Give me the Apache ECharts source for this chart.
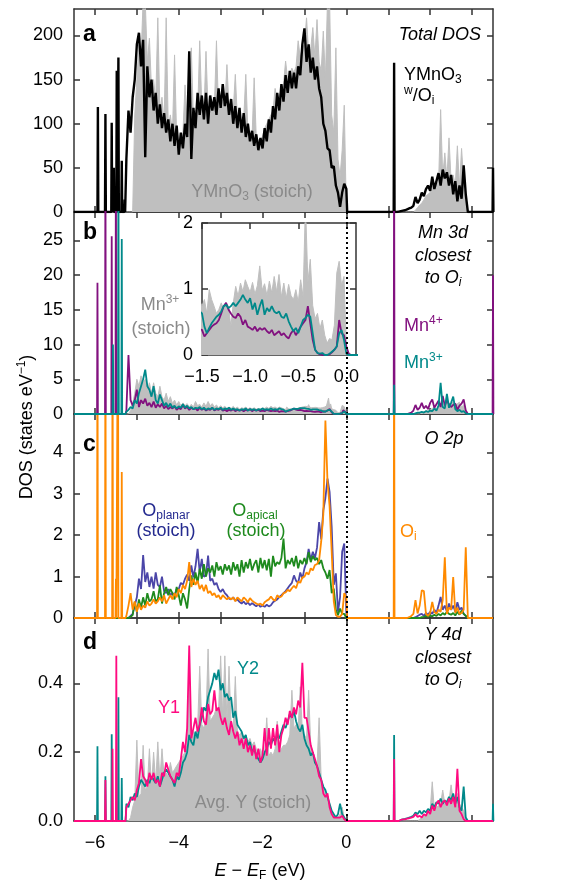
<!DOCTYPE html>
<html>
<head>
<meta charset="utf-8">
<script src="https://cdn.jsdelivr.net/npm/echarts@6/dist/echarts.min.js"></script>
<style>
  html, body { margin: 0; background: #fff; }
  #chart { width: 585px; height: 883px; }
</style>
</head>
<body>
<div id="chart"></div>
<script>
// Energy range (eV) and tick positions
const E_MIN = -6.5, E_MAX = 3.5;
const eTicks = [-6, -5, -4, -3, -2, -1, 0, 1, 2, 3];
const eLabels = [-6, -4, -2, 0, 2];
const dosTicksA = [0, 50, 100, 150, 200];
const dosTicksB = [0, 5, 10, 15, 20, 25];
const dosTicksC = [0, 1, 2, 3, 4];
const dosTicksD = [0, 0.2, 0.4];
const insetETicks = [-1.5, -1.0, -0.5, 0.0];
const insetDosTicks = [0, 1, 2];

// Sampling grids
const VB_START = -5.25, VB_STEP = 0.05;     // valence band, 106 points to 0.00
const CB_START = 1.20, CB_STEP = 0.05;      // conduction band, 35 points to 2.90
const MN_COARSE_START = -5.25;              // Mn valence coarse, 75 points to -1.55
const MN_FINE_START = -1.5, MN_FINE_STEP = 0.025; // Mn fine (inset), 65 points to 0.10

// ---- (a) Total DOS ----
const totalOiSpikes = [[-5.93, 119], [-5.75, 111], [-5.60, 101], [-5.55, 50], [-5.48, 160], [-5.44, 175], [-5.36, 58], [-5.29, 14], [1.14, 169], [3.5, 50]];
const totalOiVB = [
  60, 115, 90, 130, 150, 190, 203, 165, 195, 62,
  165, 130, 150, 115, 135, 100, 122, 95, 112, 90,
  105, 80, 100, 75, 98, 65, 90, 72, 100, 85,
  182, 60, 118, 95, 135, 110, 132, 105, 135, 100,
  132, 115, 130, 110, 140, 118, 145, 120, 135, 110,
  128, 100, 120, 95, 118, 90, 112, 85, 100, 80,
  92, 75, 88, 70, 84, 72, 95, 80, 105, 90,
  120, 105, 135, 115, 145, 125, 155, 135, 160, 140,
  158, 140, 165, 155, 190, 208, 170, 190, 158, 175,
  150, 165, 140, 130, 100, 92, 72, 70, 50, 52,
  30, 22, 6, 22, 32, 26
];
const totalOiCB = [
  0, 0.5, 1, 1.5, 2, 3, 4, 5, 7, 17,
  10, 14, 22, 18, 26, 30, 24, 40, 26, 35,
  44, 30, 48, 38, 45, 30, 42, 20, 35, 12,
  30, 15, 53, 20, 0
];
const totalStoichVB = [
  0, 0, 0, 0, 110, 150, 190, 175, 240, 240,
  170, 197, 140, 150, 125, 220, 115, 130, 100, 220,
  95, 110, 90, 178, 85, 80, 75, 90, 144, 100,
  120, 186, 105, 115, 110, 194, 120, 110, 182, 115,
  120, 125, 118, 194, 115, 130, 125, 120, 167, 118,
  112, 115, 156, 105, 108, 100, 104, 156, 92, 90,
  86, 152, 84, 82, 80, 86, 95, 100, 105, 110,
  115, 140, 125, 132, 138, 145, 171, 150, 155, 163,
  158, 165, 194, 175, 185, 190, 220, 180, 185, 209,
  175, 218, 170, 160, 205, 150, 240, 240, 110, 90,
  186, 60, 40, 70, 121, 0
];
const totalStoichCB = [
  0, 0, 0, 0, 0, 0, 0, 0, 0, 2,
  5, 8, 10, 14, 18, 20, 22, 30, 26, 35,
  30, 116, 40, 67, 38, 84, 35, 42, 30, 75,
  28, 72, 35, 20, 0
];

// ---- (b) Mn 3d ----
const mn4Spikes = [[-5.94, 18.9], [-5.75, 40], [-5.60, 25.6], [-5.50, 40], [1.14, 40], [3.5, 20]];
const mn3Spikes = [[-5.57, 10], [-5.44, 40], [-5.36, 25.2], [1.14, 4.2]];
const mn4Coarse = [
  0.5, 8.5, 2.0, 1.2, 2.0, 3.5, 1.0, 2.0, 1.5, 2.2,
  1.2, 1.6, 1.0, 1.8, 0.9, 1.4, 1.0, 1.5, 0.8, 1.2,
  0.7, 1.0, 0.8, 1.1, 0.6, 0.9, 0.7, 1.3, 0.8, 1.0,
  0.6, 0.9, 0.7, 0.8, 0.5, 0.9, 0.6, 0.8, 0.5, 0.7,
  0.6, 0.9, 0.5, 0.7, 0.6, 0.8, 0.5, 0.6, 0.4, 0.6,
  0.5, 0.7, 0.4, 0.6, 0.5, 0.6, 0.4, 0.6, 0.5, 0.7,
  0.4, 0.6, 0.5, 0.6, 0.4, 0.5, 0.4, 0.6, 0.5, 0.4,
  0.5, 0.4, 0.5, 0.3, 0.4
];
const mn4Fine = [
  0.38, 0.28, 0.33, 0.38, 0.43, 0.46, 0.48, 0.53, 0.63, 0.74,
  0.79, 0.69, 0.63, 0.58, 0.56, 0.63, 0.58, 0.46, 0.53, 0.43,
  0.41, 0.38, 0.43, 0.36, 0.41, 0.38, 0.41, 0.36, 0.33, 0.38,
  0.30, 0.33, 0.36, 0.30, 0.33, 0.28, 0.25, 0.33, 0.38, 0.30,
  0.36, 0.43, 0.48, 0.53, 0.74, 0.48, 0.23, 0.08, 0.03, 0.01,
  0, 0, 0, 0.01, 0.04, 0.08, 0.13, 0.53, 0.33, 0.30,
  0.13, 0.02, 0, 0, 0
];
const mn4CB = [
  0, 0, 0, 0, 0, 0, 0.1, 0.2, 0.5, 1.3,
  0.6, 0.9, 1.6, 0.8, 1.2, 0.7, 1.6, 2.1, 0.9, 1.4,
  1.9, 1.0, 2.6, 1.2, 2.0, 1.4, 1.0, 1.3, 1.5, 0.6,
  1.2, 1.5, 2.1, 0.5, 0
];
const mn3Coarse = [
  0.3, 0.6, 1.0, 0.8, 2.0, 1.5, 3.0, 4.0, 5.0, 6.4,
  4.0, 3.5, 2.5, 4.0, 2.0, 1.5, 2.8, 2.0, 1.2, 1.6,
  1.0, 1.5, 0.9, 1.2, 0.8, 1.1, 0.9, 1.4, 0.9, 1.2,
  0.8, 1.0, 0.7, 0.9, 0.8, 1.0, 0.7, 0.9, 0.6, 0.8,
  0.7, 0.9, 0.6, 0.8, 0.7, 0.9, 0.6, 0.8, 0.7, 0.9,
  0.6, 0.8, 0.6, 0.7, 0.5, 0.7, 0.6, 0.8, 0.5, 0.7,
  0.6, 0.7, 0.5, 0.7, 0.6, 0.8, 0.6, 0.7, 0.6, 0.8,
  0.6, 0.7, 0.6, 0.8, 0.7
];
const mn3Fine = [
  0.63, 0.43, 0.33, 0.41, 0.48, 0.53, 0.58, 0.61, 0.66, 0.74,
  0.76, 0.71, 0.74, 0.79, 0.74, 0.79, 0.84, 0.91, 0.84, 0.79,
  0.86, 0.69, 0.79, 0.61, 0.74, 0.84, 0.61, 0.71, 0.66, 0.74,
  0.66, 0.63, 0.66, 0.58, 0.56, 0.63, 0.51, 0.43, 0.36, 0.41,
  0.33, 0.43, 0.53, 0.56, 0.61, 0.58, 0.33, 0.08, 0.03, 0.02,
  0.03, 0, 0, 0.02, 0.05, 0.08, 0.13, 0.33, 0.38, 0.23,
  0.02, 0, 0, 0, 0
];
const mn3CB = [
  0, 0, 0, 0, 0, 0, 0, 0, 0, 0.1,
  0.2, 0.2, 0.3, 0.2, 0.4, 0.3, 0.5, 0.4, 0.8, 0.5,
  1.2, 4.5, 1.0, 0.8, 2.9, 0.9, 1.6, 2.5, 0.7, 0.4,
  0.6, 0.3, 0.4, 0.1, 0
];
const mnStoichCoarse = [
  0, 0, 0.5, 1.5, 3.0, 5.0, 4.0, 5.5, 4.5, 5.0,
  3.5, 4.5, 3.0, 4.5, 3.0, 2.5, 4.0, 2.5, 2.0, 3.0,
  1.8, 2.5, 1.5, 2.0, 1.3, 1.8, 1.2, 1.6, 1.2, 1.5,
  1.0, 1.4, 1.0, 1.8, 1.2, 1.4, 1.0, 1.6, 1.1, 1.8,
  1.2, 1.5, 1.0, 1.3, 0.9, 1.2, 0.9, 1.1, 0.8, 1.0,
  0.8, 1.1, 0.8, 1.0, 0.7, 0.9, 0.8, 1.0, 0.7, 0.9,
  0.7, 0.9, 0.7, 0.8, 0.7, 0.9, 0.8, 1.0, 0.8, 1.1,
  0.9, 1.0, 0.8, 1.0, 0.9
];
const mnStoichFine = [
  0.74, 0.84, 0.63, 0.99, 0.84, 0.74, 0.63, 0.69, 0.79, 0.69,
  0.79, 0.74, 0.43, 0.79, 1.04, 0.89, 1.09, 0.96, 1.14, 1.04,
  0.95, 1.10, 0.92, 1.05, 1.35, 0.98, 1.08, 0.90, 1.12, 0.94,
  1.19, 0.96, 1.22, 0.88, 1.09, 0.86, 1.07, 0.90, 0.84, 0.99,
  0.80, 1.14, 0.88, 2.30, 1.10, 1.45, 0.75, 0.55, 0.63, 0.40,
  0.53, 0.30, 0.18, 0.25, 0.23, 0.45, 1.24, 1.42, 1.05, 1.19,
  0.13, 0, 0, 0, 0
];
const mnStoichCB = [
  0, 0, 0, 0, 0, 0, 0, 0, 0, 0,
  0, 0, 0.2, 0.3, 0.5, 0.4, 0.6, 0.8, 1.0, 0.7,
  1.2, 1.5, 1.0, 1.3, 1.6, 1.1, 1.4, 1.8, 1.2, 1.5,
  1.7, 1.0, 1.3, 0.5, 0
];

// ---- (c) O 2p ----
const oiSpikes = [[-5.94, 8], [-5.75, 8], [-5.58, 8], [-5.50, 0.95], [-5.45, 8], [-5.36, 3.53], [1.14, 8]];
const oiVB = [
  0.05, 0.3, 0.6, 0.2, 0.4, 0.15, 0.35, 0.2, 0.3, 0.25,
  0.4, 0.3, 0.35, 0.45, 0.35, 0.4, 0.5, 0.4, 0.55, 0.35,
  0.45, 0.55, 0.45, 0.6, 0.5, 0.7, 0.6, 0.8, 0.7, 0.9,
  1.35, 0.75, 0.95, 0.8, 0.9, 0.7, 0.8, 0.65, 0.8, 0.6,
  0.65, 0.55, 0.6, 0.5, 0.55, 0.45, 0.55, 0.5, 0.45, 0.5,
  0.45, 0.5, 0.4, 0.5, 0.45, 0.4, 0.5, 0.45, 0.38, 0.48,
  0.42, 0.38, 0.35, 0.32, 0.35, 0.3, 0.38, 0.42, 0.45, 0.52,
  0.45, 0.42, 0.55, 0.5, 0.52, 0.6, 0.62, 0.68, 0.65, 0.72,
  0.78, 0.72, 0.88, 0.85, 0.98, 1.0, 1.1, 1.05, 1.2, 1.15,
  1.28, 1.3, 1.4, 1.85, 2.5, 4.77, 3.3, 2.7, 1.6, 0.4,
  0.07, 0.03, 0.03, 0.1, 0.6, 0.5
];
const oiCB = [
  0, 0, 0, 0, 0, 0, 0.02, 0.05, 0.1, 0.43,
  0.11, 0.3, 0.67, 0.65, 0.1, 0.05, 0.12, 0.39, 0.15, 0.1,
  0.2, 0.15, 0.43, 1.47, 0.1, 0.25, 0.2, 0.99, 0.12, 0.25,
  0.1, 0.12, 0.2, 1.71, 0
];
const oPlanarVB = [
  0, 0, 0.05, 0.1, 0.3, 0.5, 0.95, 0.7, 1.52, 0.87,
  1.1, 0.75, 1.0, 0.71, 1.1, 0.8, 0.75, 1.0, 0.65, 0.6,
  0.7, 0.55, 0.6, 0.55, 0.7, 0.7, 0.85, 0.8, 0.95, 1.05,
  0.9, 1.27, 0.98, 1.25, 1.67, 1.1, 1.43, 1.0, 1.03, 1.51,
  0.9, 0.95, 0.8, 0.85, 0.7, 0.63, 0.7, 0.6, 0.55, 0.47,
  0.45, 0.5, 0.42, 0.45, 0.39, 0.35, 0.4, 0.33, 0.38, 0.31,
  0.36, 0.32, 0.28, 0.33, 0.27, 0.3, 0.27, 0.32, 0.28, 0.31,
  0.38, 0.42, 0.45, 0.51, 0.55, 0.6, 0.65, 0.72, 0.79, 0.85,
  1.03, 0.9, 0.85, 1.1, 0.95, 1.2, 1.35, 1.67, 1.4, 1.6,
  1.45, 1.7, 2.32, 1.9, 2.6, 2.9, 3.37, 3.05, 2.2, 0.8,
  1.08, 0.15, 0.5, 1.6, 1.8, 0.07
];
const oPlanarCB = [
  0, 0, 0, 0, 0, 0, 0, 0, 0, 0.02,
  0.05, 0.08, 0.1, 0.05, 0.12, 0.08, 0.15, 0.1, 0.2, 0.12,
  0.3, 0.51, 0.2, 0.3, 0.15, 0.35, 0.2, 0.3, 0.15, 0.38,
  0.2, 0.25, 0.1, 0.05, 0
];
const oApicalVB = [
  0, 0, 0.03, 0.07, 0.39, 0.15, 0.45, 0.25, 0.5, 0.3,
  0.6, 0.4, 0.45, 0.65, 0.4, 0.45, 0.79, 0.35, 0.6, 0.75,
  0.55, 0.7, 0.6, 0.45, 0.75, 0.55, 0.3, 0.6, 0.45, 0.23,
  0.7, 1.03, 0.8, 1.1, 0.85, 1.19, 0.95, 1.3, 1.0, 1.2,
  1.1, 1.27, 1.0, 1.35, 1.15, 1.25, 1.05, 1.3, 1.15, 1.27,
  1.05, 1.35, 1.15, 1.3, 1.0, 1.4, 1.1, 1.35, 1.2, 1.43,
  1.15, 1.3, 1.4, 1.1, 1.45, 1.2, 1.4, 1.15, 1.43, 1.0,
  1.5, 1.25, 1.35, 1.3, 1.45, 1.92, 1.2, 1.4, 1.3, 1.45,
  1.25, 1.5, 1.2, 1.4, 1.3, 1.45, 1.3, 1.59, 1.35, 1.5,
  1.4, 1.45, 1.3, 1.4, 1.2, 1.1, 0.95, 1.16, 0.6, 0.71,
  0.2, 0.07, 0.23, 0.1, 0.1, 0
];
const oApicalCB = [
  0, 0, 0, 0, 0, 0, 0, 0, 0, 0,
  0, 0, 0.02, 0.03, 0.05, 0.03, 0.06, 0.04, 0.08, 0.05,
  0.1, 0.06, 0.12, 0.08, 0.15, 0.1, 0.08, 0.12, 0.06, 0.15,
  0.08, 0.18, 0.1, 0.05, 0
];

// ---- (d) Y 4d ----
const y1Spikes = [[-5.75, 0.119], [-5.58, 0.21], [-5.49, 0.48], [1.14, 0.18]];
const y2Spikes = [[-5.94, 0.217], [-5.75, 0.13], [-5.60, 0.252], [-5.44, 0.36], [-5.36, 0.125], [1.14, 0.25], [3.5, 0.05]];
const yStoichVB = [
  0, 0, 0.01, 0.04, 0.06, 0.235, 0.07, 0.08, 0.22, 0.09,
  0.1, 0.21, 0.1, 0.2, 0.11, 0.23, 0.12, 0.21, 0.13, 0.14,
  0.13, 0.17, 0.14, 0.15, 0.16, 0.17, 0.18, 0.19, 0.2, 0.22,
  0.43, 0.24, 0.26, 0.25, 0.27, 0.45, 0.28, 0.27, 0.3, 0.5,
  0.29, 0.3, 0.31, 0.33, 0.32, 0.48, 0.3, 0.48, 0.29, 0.45,
  0.28, 0.27, 0.42, 0.26, 0.25, 0.26, 0.24, 0.25, 0.23, 0.24,
  0.22, 0.23, 0.21, 0.2, 0.21, 0.19, 0.2, 0.3, 0.19, 0.2,
  0.19, 0.21, 0.29, 0.2, 0.21, 0.22, 0.22, 0.23, 0.25, 0.38,
  0.27, 0.28, 0.27, 0.39, 0.26, 0.25, 0.24, 0.38, 0.22, 0.2,
  0.17, 0.16, 0.3, 0.12, 0.1, 0.08, 0.06, 0.04, 0.03, 0.02,
  0.01, 0.01, 0.02, 0.04, 0.01, 0
];
const yStoichCB = [
  0, 0, 0, 0, 0, 0, 0, 0, 0, 0,
  0, 0.005, 0.01, 0.015, 0.02, 0.025, 0.03, 0.114, 0.035, 0.04,
  0.045, 0.05, 0.09, 0.05, 0.055, 0.06, 0.105, 0.06, 0.07, 0.08,
  0.05, 0.04, 0.03, 0.01, 0
];
const y1VB = [
  0.04, 0.05, 0.06, 0.07, 0.06, 0.09, 0.11, 0.18, 0.13, 0.12,
  0.1, 0.14, 0.12, 0.14, 0.11, 0.12, 0.1, 0.14, 0.13, 0.17,
  0.15, 0.13, 0.12, 0.11, 0.14, 0.13, 0.18, 0.23, 0.2, 0.27,
  0.51, 0.24, 0.27, 0.3, 0.26, 0.28, 0.33, 0.29, 0.28, 0.34,
  0.31, 0.32, 0.38, 0.32, 0.33, 0.3, 0.28, 0.3, 0.27, 0.25,
  0.29, 0.26, 0.24, 0.26, 0.22, 0.24, 0.21, 0.24, 0.2, 0.22,
  0.19, 0.22, 0.18, 0.21, 0.17, 0.19, 0.27, 0.19, 0.27, 0.21,
  0.27, 0.22, 0.28, 0.2, 0.25, 0.27, 0.3, 0.28, 0.32, 0.3,
  0.33, 0.31, 0.35, 0.33, 0.46, 0.3, 0.3, 0.26, 0.22, 0.2,
  0.18, 0.16, 0.13, 0.12, 0.08, 0.07, 0.08, 0.04, 0.02, 0.01,
  0.01, 0.01, 0.01, 0.015, 0.005, 0
];
const y1CB = [
  0, 0, 0.003, 0.005, 0.005, 0.007, 0.008, 0.01, 0.012, 0.02,
  0.012, 0.015, 0.01, 0.02, 0.015, 0.03, 0.02, 0.045, 0.03, 0.05,
  0.06, 0.04, 0.055, 0.06, 0.045, 0.065, 0.05, 0.07, 0.04, 0.152,
  0.03, 0.02, 0.005, 0, 0
];
const y2VB = [
  0.05, 0.04, 0.07, 0.06, 0.08, 0.07, 0.1, 0.12, 0.11, 0.1,
  0.12, 0.11, 0.13, 0.12, 0.11, 0.13, 0.1, 0.12, 0.14, 0.15,
  0.14, 0.13, 0.12, 0.1, 0.13, 0.12, 0.14, 0.17, 0.18, 0.2,
  0.25, 0.23, 0.22, 0.26, 0.24, 0.28, 0.3, 0.33, 0.32, 0.36,
  0.38, 0.4, 0.43, 0.41, 0.44, 0.38, 0.4, 0.36, 0.37, 0.35,
  0.36, 0.3, 0.32, 0.28, 0.27, 0.26, 0.24, 0.25, 0.22, 0.23,
  0.2, 0.21, 0.19, 0.18, 0.17, 0.18, 0.2, 0.21, 0.23, 0.22,
  0.24, 0.23, 0.25, 0.24, 0.26, 0.28, 0.27, 0.29, 0.31, 0.3,
  0.32, 0.29, 0.27, 0.26, 0.28, 0.24, 0.22, 0.21, 0.19, 0.2,
  0.17, 0.16, 0.14, 0.12, 0.1, 0.09, 0.07, 0.05, 0.03, 0.02,
  0.01, 0.02, 0.05, 0.02, 0.01, 0
];
const y2CB = [
  0, 0, 0.003, 0.005, 0.006, 0.008, 0.01, 0.012, 0.015, 0.025,
  0.02, 0.03, 0.02, 0.03, 0.025, 0.035, 0.03, 0.05, 0.04, 0.055,
  0.05, 0.065, 0.05, 0.06, 0.055, 0.07, 0.06, 0.08, 0.05, 0.07,
  0.04, 0.03, 0.1, 0.01, 0
];

// ---- styling ----
const FONT = '"Liberation Sans", Arial, Helvetica, sans-serif';
const GRAY = '#bfbfbf';
const GRAY_TEXT = '#8a8a8a';
const PURPLE = '#82117f';
const TEAL = '#00898a';
const ORANGE = '#ff8a00';
const BLUE = '#4b46a8';
const BLUE_TEXT = '#242a8f';
const GREEN = '#1e8a1e';
const PINK = '#ff0a80';
const AXIS = '#333';
const SPIKE_HALF = 0.01;

function sampled(start, step, values) {
  return values.map((v, i) => [Math.round((start + i * step) * 1000) / 1000, v]);
}

// builds a polyline over the full energy range: spikes + sampled bands, zero elsewhere
function curve(spikes, ...parts) {
  const pts = [[E_MIN, 0]];
  spikes.forEach(([e, h]) => pts.push([e - SPIKE_HALF, 0], [e, h], [e + SPIKE_HALF, 0]));
  parts.forEach((p) => {
    pts.push([p[0][0] - 0.02, 0], ...p, [p[p.length - 1][0] + 0.02, 0]);
  });
  pts.sort((a, b) => a[0] - b[0]);
  if (pts[pts.length - 1][0] < E_MAX) pts.push([E_MAX, 0]);
  return pts;
}

const vb = (v) => sampled(VB_START, VB_STEP, v);
const cb = (v) => sampled(CB_START, CB_STEP, v);
const mnVB = (c, f) => sampled(MN_COARSE_START, VB_STEP, c).concat(sampled(MN_FINE_START, MN_FINE_STEP, f));

const dataTotalStoich = curve([], vb(totalStoichVB), cb(totalStoichCB));
const dataTotalOi = curve(totalOiSpikes, vb(totalOiVB), cb(totalOiCB));
const dataMnStoich = curve([], mnVB(mnStoichCoarse, mnStoichFine), cb(mnStoichCB));
const dataMn4 = curve(mn4Spikes, mnVB(mn4Coarse, mn4Fine), cb(mn4CB));
const dataMn3 = curve(mn3Spikes, mnVB(mn3Coarse, mn3Fine), cb(mn3CB));
const dataOPlanar = curve([], vb(oPlanarVB), cb(oPlanarCB));
const dataOApical = curve([], vb(oApicalVB), cb(oApicalCB));
const dataOi = curve(oiSpikes, vb(oiVB), cb(oiCB));
const dataYStoich = curve([], vb(yStoichVB), cb(yStoichCB));
const dataY2 = curve(y2Spikes, vb(y2VB), cb(y2CB));
const dataY1 = curve(y1Spikes, vb(y1VB), cb(y1CB));

const minus = (v) => String(v).replace('-', '\u2212');
const labelStyle = { color: '#000', fontSize: 18, fontFamily: FONT };
const lineStyle = { color: AXIS, width: 1.5 };

const panels = [
  { top: 9, height: 203, max: 230, ticks: dosTicksA, fmt: (v) => String(v) },
  { top: 212, height: 202, max: 29.1, ticks: dosTicksB, fmt: (v) => String(v) },
  { top: 414, height: 204, max: 4.93, ticks: dosTicksC, fmt: (v) => String(v) },
  { top: 618, height: 203, max: 0.59, ticks: dosTicksD, fmt: (v) => v.toFixed(1) }
];

const grid = [];
const xAxis = [];
const yAxis = [];

function axisPair(list, base, pos2) {
  list.push(base);
  list.push(Object.assign({}, base, { position: pos2, axisLabel: { show: false } }));
}

panels.forEach((p, i) => {
  grid.push({ left: 74, right: 92, top: p.top, height: p.height, outerBoundsMode: 'none' });
  axisPair(xAxis, {
    type: 'value', gridIndex: i, min: E_MIN, max: E_MAX, position: 'bottom',
    axisLine: { show: true, onZero: false, lineStyle },
    splitLine: { show: false },
    axisTick: { show: true, inside: true, length: 6, customValues: eTicks, lineStyle },
    axisLabel: Object.assign({ show: i === 3, customValues: eLabels, formatter: minus, margin: 13 }, labelStyle)
  }, 'top');
  axisPair(yAxis, {
    type: 'value', gridIndex: i, min: 0, max: p.max, position: 'left',
    axisLine: { show: true, onZero: false, lineStyle },
    splitLine: { show: false },
    axisTick: { show: true, inside: true, length: 6, customValues: p.ticks, lineStyle },
    axisLabel: Object.assign({ show: true, customValues: p.ticks, formatter: p.fmt, margin: 11 }, labelStyle)
  }, 'right');
});

// inset in panel b
grid.push({ left: 202, top: 223, width: 154, height: 132, outerBoundsMode: 'none' });
axisPair(xAxis, {
  type: 'value', gridIndex: 4, min: -1.5, max: 0.1, position: 'bottom',
  axisLine: { show: true, onZero: false, lineStyle },
  splitLine: { show: false },
  axisTick: { show: true, inside: true, length: 6, customValues: insetETicks, lineStyle },
  axisLabel: Object.assign({ show: true, customValues: insetETicks, formatter: (v) => minus(v.toFixed(1)), margin: 13 }, labelStyle)
}, 'top');
axisPair(yAxis, {
  type: 'value', gridIndex: 4, min: 0, max: 2, position: 'left',
  axisLine: { show: true, onZero: false, lineStyle },
  splitLine: { show: false },
  axisTick: { show: true, inside: true, length: 6, customValues: insetDosTicks, lineStyle },
  axisLabel: Object.assign({ show: true, customValues: insetDosTicks, formatter: (v) => String(v), margin: 9 }, labelStyle)
}, 'right');

function line(data, color, axisIdx, extra) {
  return Object.assign({
    type: 'line', data, xAxisIndex: axisIdx, yAxisIndex: axisIdx,
    showSymbol: false, symbol: 'none', silent: true, clip: true, animation: false,
    lineStyle: { color, width: 1.8 }, itemStyle: { color }
  }, extra || {});
}
function area(data, axisIdx) {
  return line(data, GRAY, axisIdx, { lineStyle: { color: GRAY, width: 1 }, areaStyle: { color: GRAY, opacity: 1 } });
}
const fermiLine = {
  silent: true, symbol: ['none', 'none'], animation: false, label: { show: false },
  lineStyle: { color: '#000', type: [2, 3], width: 2 }, data: [{ xAxis: 0 }]
};

const series = [
  area(dataTotalStoich, 0),
  line(dataTotalOi, '#000', 0, { lineStyle: { color: '#000', width: 2.4 } }),
  area(dataMnStoich, 2),
  line(dataMn4, PURPLE, 2),
  line(dataMn3, TEAL, 2, { z: 5, markLine: fermiLine }),
  line(dataOPlanar, BLUE, 4),
  line(dataOApical, GREEN, 4),
  line(dataOi, ORANGE, 4, { markLine: fermiLine }),
  area(dataYStoich, 6),
  line(dataY2, TEAL, 6),
  line(dataY1, PINK, 6, { markLine: fermiLine }),
  area(dataMnStoich, 8),
  line(dataMn4, PURPLE, 8),
  line(dataMn3, TEAL, 8)
];

// rich text helpers for sub/superscripts
function rich(size, color, italic) {
  const base = { fontSize: size, fontFamily: FONT, fontStyle: italic ? 'italic' : 'normal', fill: color, verticalAlign: 'middle' };
  const small = Math.round(size * 0.65);
  return {
    n: base,
    i: Object.assign({}, base, { fontStyle: 'italic' }),
    sup: Object.assign({}, base, { fontSize: small, padding: [0, 0, size * 0.55, 0] }),
    sub: Object.assign({}, base, { fontSize: small, padding: [size * 0.5, 0, 0, 0] }),
    isub: Object.assign({}, base, { fontSize: small, fontStyle: 'italic', padding: [size * 0.5, 0, 0, 0] })
  };
}
function text(x, y, str, opts) {
  const o = Object.assign({ size: 18, color: '#000', italic: false, align: 'left', bold: false }, opts || {});
  return {
    type: 'text', x, y, silent: true, z: 100, rotation: o.rotation || 0,
    style: {
      text: str, fill: o.color, fontSize: o.size, fontFamily: FONT,
      fontStyle: o.italic ? 'italic' : 'normal', fontWeight: o.bold ? 'bold' : 'normal',
      align: o.align, verticalAlign: 'middle', textAlign: o.align, textVerticalAlign: 'middle',
      rich: rich(o.size, o.color, o.italic)
    }
  };
}

const graphic = [
  text(83, 35, 'a', { size: 23, bold: true }),
  text(83, 233, 'b', { size: 23, bold: true }),
  text(83, 445, 'c', { size: 23, bold: true }),
  text(83, 643, 'd', { size: 23, bold: true }),
  text(481, 35, 'Total DOS', { italic: true, align: 'right' }),
  text(404, 75, '{n|YMnO}{sub|3}'),
  text(404, 96, '{sup|w}{n|/O}{sub|i}'),
  text(252, 192, '{n|YMnO}{sub|3}{n| (stoich)}', { color: GRAY_TEXT, align: 'center' }),
  text(443, 233, 'Mn 3d', { italic: true, align: 'center' }),
  text(443, 256, 'closest', { italic: true, align: 'center' }),
  text(443, 278, '{i|to O}{isub|i}', { italic: true, align: 'center' }),
  text(404, 326, '{n|Mn}{sup|4+}', { color: PURPLE }),
  text(404, 363, '{n|Mn}{sup|3+}', { color: TEAL }),
  text(160, 305, '{n|Mn}{sup|3+}', { color: GRAY_TEXT, align: 'center' }),
  text(161, 329, '(stoich)', { color: GRAY_TEXT, align: 'center' }),
  text(444, 439, 'O 2p', { italic: true, align: 'center' }),
  text(166, 511, '{n|O}{sub|planar}', { color: BLUE_TEXT, align: 'center' }),
  text(166, 531, '(stoich)', { color: BLUE_TEXT, align: 'center' }),
  text(255, 511, '{n|O}{sub|apical}', { color: GREEN, align: 'center' }),
  text(256, 531, '(stoich)', { color: GREEN, align: 'center' }),
  text(400, 532, '{n|O}{sub|i}', { color: ORANGE }),
  text(443, 635, 'Y 4d', { italic: true, align: 'center' }),
  text(443, 658, 'closest', { italic: true, align: 'center' }),
  text(443, 680, '{i|to O}{isub|i}', { italic: true, align: 'center' }),
  text(237, 669, 'Y2', { color: TEAL }),
  text(158, 708, 'Y1', { color: PINK }),
  text(253, 803, 'Avg. Y (stoich)', { color: GRAY_TEXT, align: 'center' }),
  text(27, 427, '{n|DOS (states eV}{sup|\u22121}{n|)}', { align: 'center', rotation: Math.PI / 2 }),
  text(260, 871, '{i|E}{n| \u2212 }{i|E}{sub|F}{n| (eV)}', { align: 'center' })
];

const chart = echarts.init(document.getElementById('chart'), null, { renderer: 'canvas' });
chart.setOption({
  animation: false,
  backgroundColor: '#fff',
  grid, xAxis, yAxis, series, graphic
});
</script>
</body>
</html>
